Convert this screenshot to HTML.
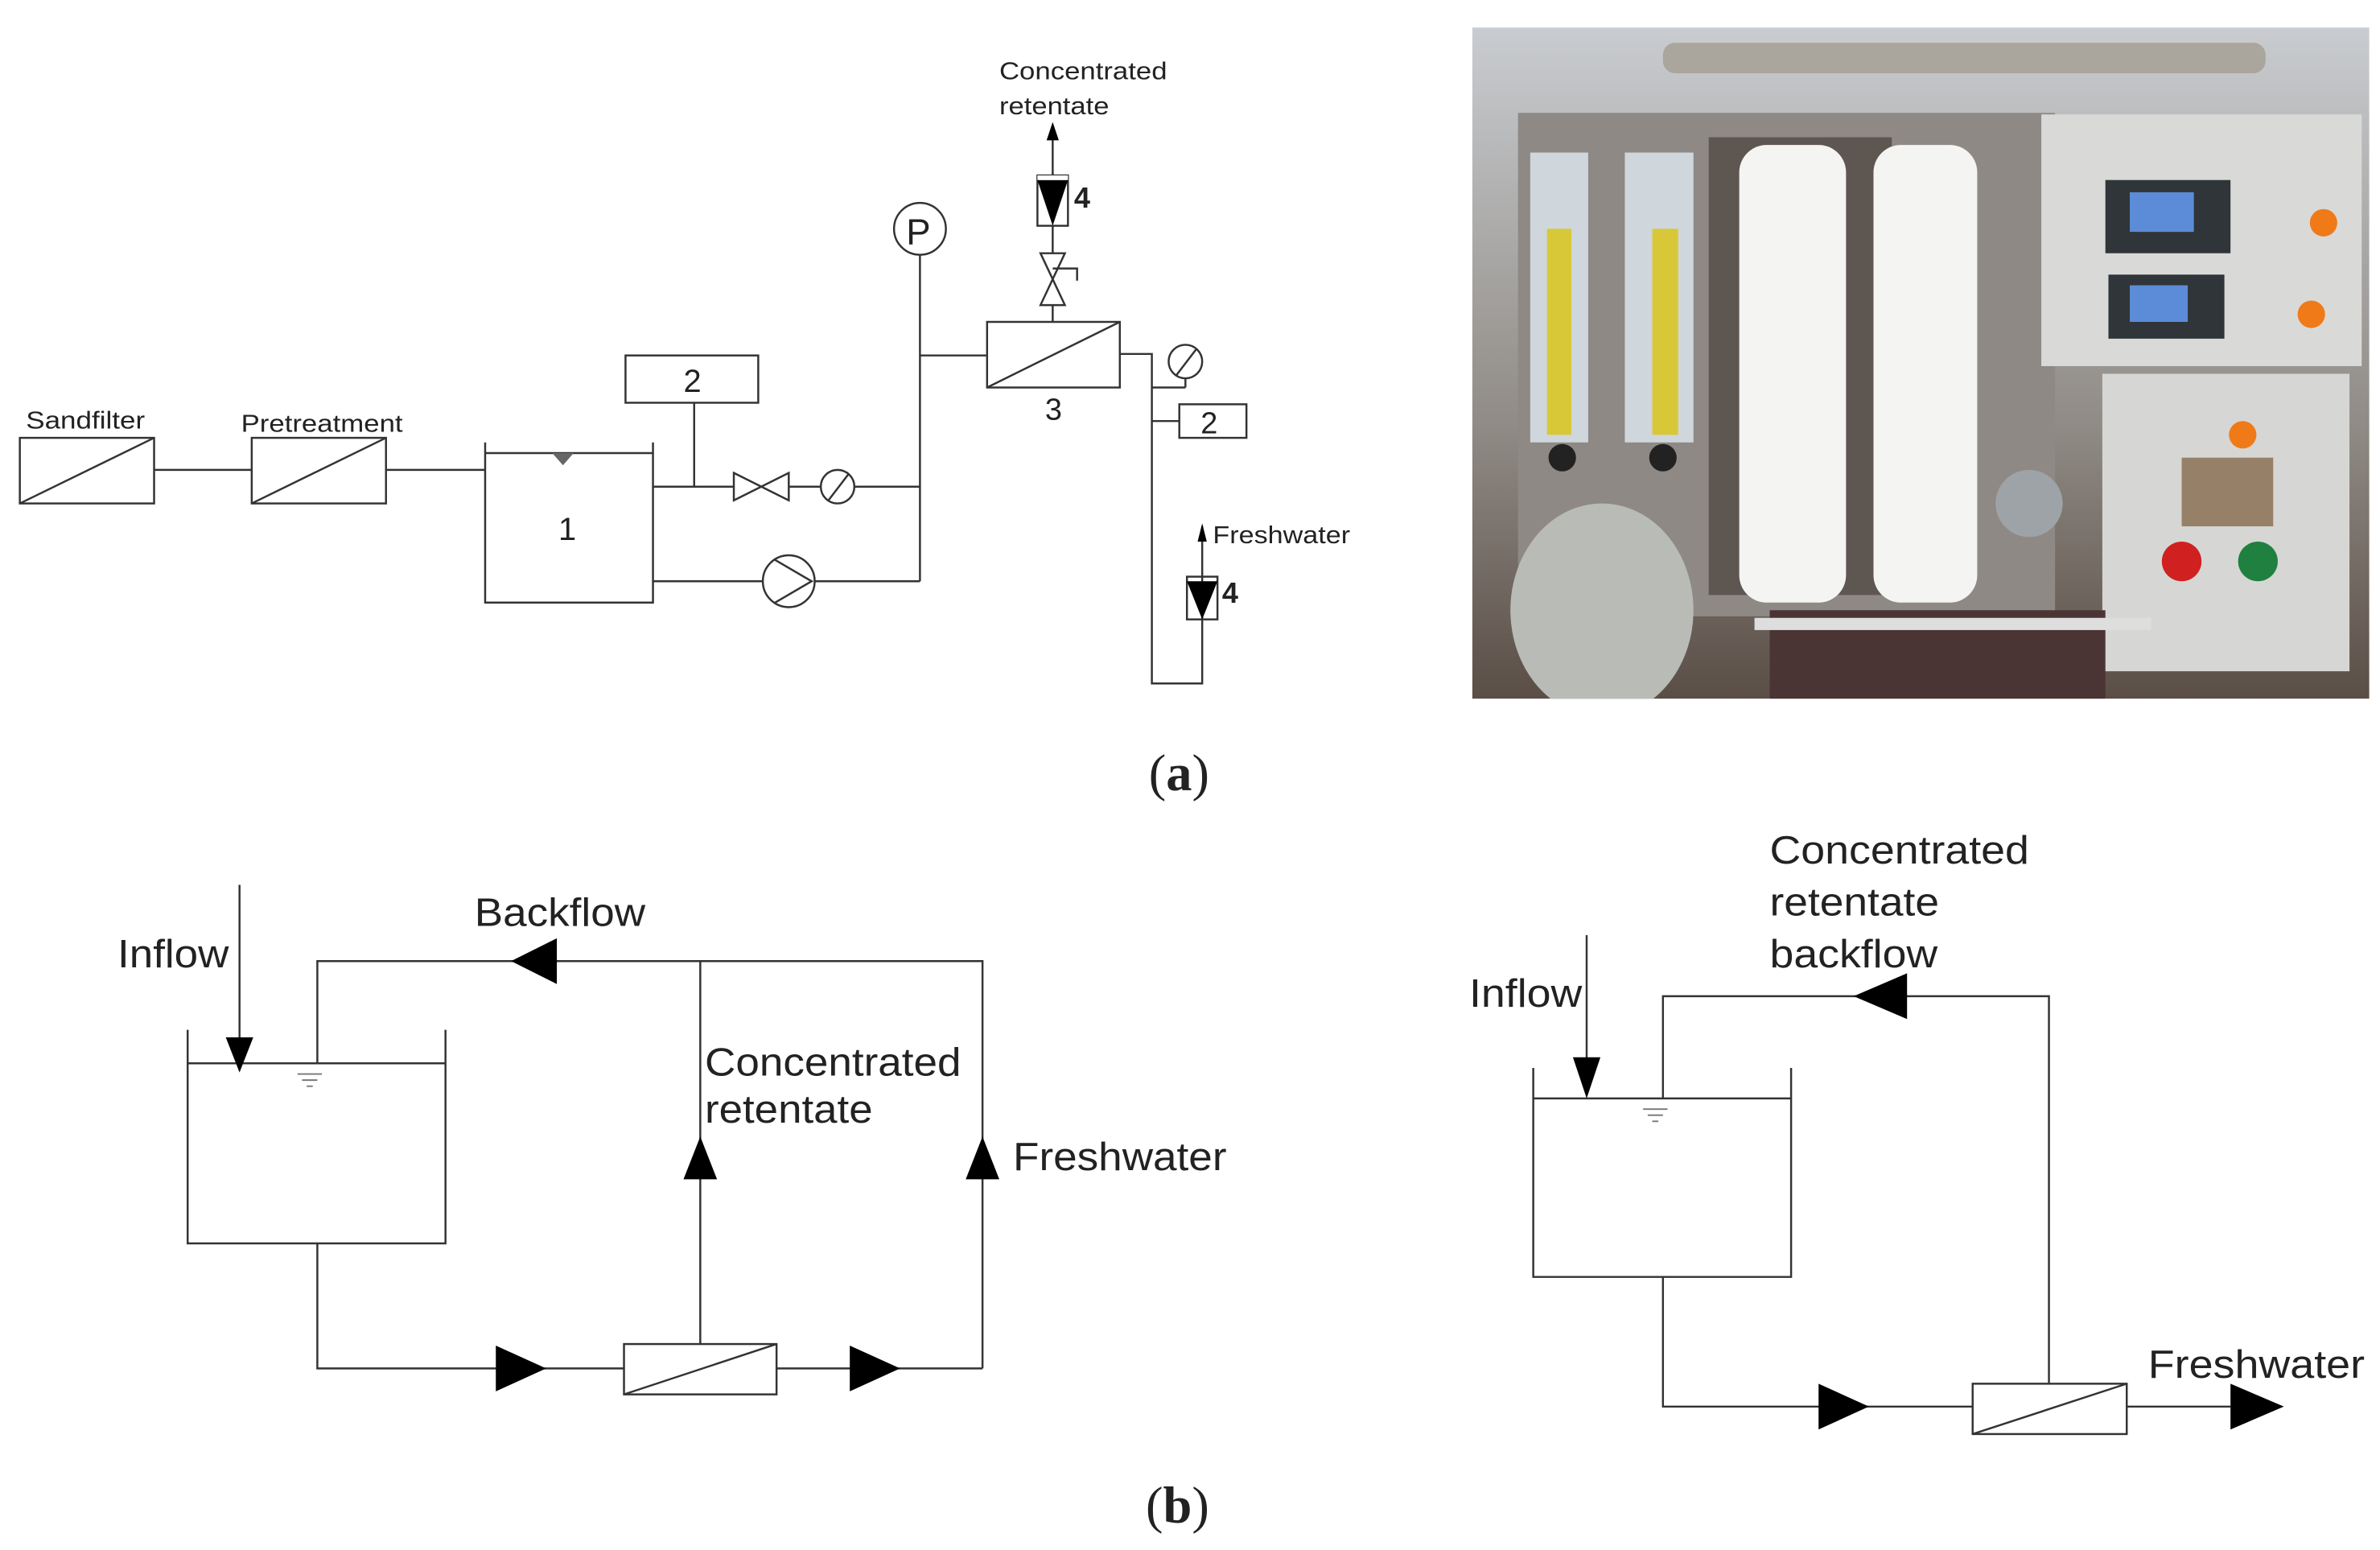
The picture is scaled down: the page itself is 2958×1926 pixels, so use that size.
<!DOCTYPE html>
<html><head><meta charset="utf-8"><style>
html,body{margin:0;padding:0;background:#fff;}
svg{display:block;}
text{font-family:"Liberation Sans",Arial,sans-serif;fill:#222;}
.s{font-family:"Liberation Serif",serif;}
</style></head><body>
<svg width="2958" height="1926" viewBox="0 0 1560 1016" preserveAspectRatio="none" xmlns="http://www.w3.org/2000/svg">
<g stroke="#333" stroke-width="1.3" fill="none">
<rect x="13" y="287" width="88" height="43"/><line x1="13" y1="330" x2="101" y2="287"/>
<rect x="165" y="287" width="88" height="43"/><line x1="165" y1="330" x2="253" y2="287"/>
<line x1="101" y1="308" x2="165" y2="308"/><line x1="253" y1="308" x2="318" y2="308"/>
<polyline points="318,290 318,395 428,395 428,290"/><line x1="318" y1="297" x2="428" y2="297"/>
<rect x="410" y="233" width="87" height="31"/>
<line x1="455" y1="264" x2="455" y2="319"/>
<line x1="428" y1="319" x2="481" y2="319"/><line x1="517" y1="319" x2="538" y2="319"/><line x1="560" y1="319" x2="603" y2="319"/>
<path d="M481,310 L517,328 L517,310 L481,328 Z"/>
<circle cx="549" cy="319" r="11"/><line x1="543" y1="328" x2="556" y2="311"/>
<line x1="428" y1="381" x2="500" y2="381"/><line x1="534" y1="381" x2="603" y2="381"/>
<circle cx="517" cy="381" r="17"/><polyline points="508,367 532,381 508,395"/>
<line x1="603" y1="381" x2="603" y2="167"/>
<circle cx="603" cy="150" r="17"/>
<line x1="603" y1="233" x2="647" y2="233"/>
<rect x="647" y="211" width="87" height="43"/><line x1="647" y1="254" x2="734" y2="211"/>
<polyline points="734,232 755,232 755,448 788,448 788,378"/>
<line x1="755" y1="254" x2="777" y2="254"/><line x1="777" y1="254" x2="777" y2="248"/>
<circle cx="777" cy="237" r="11"/><line x1="771" y1="246" x2="784" y2="229"/>
<line x1="755" y1="276" x2="773" y2="276"/>
<rect x="773" y="265" width="44" height="22"/>
<rect x="778" y="378" width="20" height="28"/>
<line x1="788" y1="378" x2="788" y2="345"/>
<line x1="690" y1="211" x2="690" y2="200"/>
<path d="M682,166 L698,166 L682,200 L698,200 Z"/>
<line x1="690" y1="166" x2="690" y2="148"/>
<polyline points="690,176 706,176 706,184"/>
<rect x="680" y="115" width="20" height="33"/>
<line x1="690" y1="115" x2="690" y2="82"/>
<line x1="157" y1="580" x2="157" y2="682"/>
<polyline points="123,675 123,815 292,815 292,675"/><line x1="123" y1="697" x2="292" y2="697"/>
<polyline points="208,697 208,630 644,630 644,897"/>
<line x1="459" y1="630" x2="459" y2="881"/>
<polyline points="208,815 208,897 409,897"/>
<rect x="409" y="881" width="100" height="33"/><line x1="409" y1="914" x2="509" y2="881"/>
<line x1="509" y1="897" x2="644" y2="897"/>
<line x1="1040" y1="613" x2="1040" y2="700"/>
<polyline points="1005,700 1005,837 1174,837 1174,700"/><line x1="1005" y1="720" x2="1174" y2="720"/>
<polyline points="1090,720 1090,653 1343,653 1343,907"/>
<polyline points="1090,837 1090,922 1293,922"/>
<rect x="1293" y="907" width="101" height="33"/><line x1="1293" y1="940" x2="1394" y2="907"/>
<line x1="1394" y1="922" x2="1462" y2="922"/>
</g>
<g fill="#000">
<path d="M680,118 L700,118 L690,148 Z"/><rect x="680" y="115" width="20" height="3" fill="#fff"/>
<path d="M778,381 L798,381 L788,406 Z"/>
<path d="M686,92 L690,80 L694,92 Z"/><path d="M785,355 L788,343 L791,355 Z"/>
<path d="M362,297 L376,297 L369,305 Z" fill="#666"/>
<path d="M148,680 L166,680 L157,703 Z"/>
<path d="M335,630 L365,615 L365,645 Z"/>
<path d="M448,773 L470,773 L459,745 Z"/>
<path d="M633,773 L655,773 L644,745 Z"/>
<path d="M325,882 L358,897 L325,912 Z"/>
<path d="M557,882 L590,897 L557,912 Z"/>
<path d="M1031,693 L1049,693 L1040,720 Z"/>
<path d="M1215,653 L1250,638 L1250,668 Z"/>
<path d="M1192,907 L1225,922 L1192,937 Z"/>
<path d="M1462,907 L1497,922 L1462,937 Z"/>
</g>
<g stroke="#777" stroke-width="1">
<line x1="195" y1="704" x2="211" y2="704"/><line x1="198" y1="708" x2="208" y2="708"/><line x1="201" y1="712" x2="205" y2="712"/>
<line x1="1077" y1="727" x2="1093" y2="727"/><line x1="1080" y1="731" x2="1090" y2="731"/><line x1="1083" y1="735" x2="1087" y2="735"/>
</g>
<text x="17" y="281" font-size="16" textLength="78" lengthAdjust="spacingAndGlyphs">Sandfilter</text>
<text x="158" y="283" font-size="16" textLength="106" lengthAdjust="spacingAndGlyphs">Pretreatment</text>
<text x="366" y="354" font-size="21">1</text>
<text x="448" y="257" font-size="21">2</text>
<text x="787" y="284" font-size="20">2</text>
<text x="685" y="275" font-size="20">3</text>
<text x="594" y="160" font-size="24">P</text>
<text x="704" y="136" font-size="19" font-weight="bold">4</text>
<text x="801" y="395" font-size="19" font-weight="bold">4</text>
<text x="655" y="52" font-size="16" textLength="110" lengthAdjust="spacingAndGlyphs">Concentrated</text>
<text x="655" y="75" font-size="16" textLength="72" lengthAdjust="spacingAndGlyphs">retentate</text>
<text x="795" y="356" font-size="16" textLength="90" lengthAdjust="spacingAndGlyphs">Freshwater</text>
<text class="s" x="753" y="518" font-size="34">(<tspan font-weight="bold">a</tspan>)</text>
<text class="s" x="751" y="998" font-size="34">(<tspan font-weight="bold">b</tspan>)</text>
<text x="77" y="634" font-size="26" textLength="73" lengthAdjust="spacingAndGlyphs">Inflow</text>
<text x="311" y="607" font-size="26" textLength="112" lengthAdjust="spacingAndGlyphs">Backflow</text>
<text x="462" y="705" font-size="26" textLength="168" lengthAdjust="spacingAndGlyphs">Concentrated</text>
<text x="462" y="736" font-size="26" textLength="110" lengthAdjust="spacingAndGlyphs">retentate</text>
<text x="664" y="767" font-size="26" textLength="140" lengthAdjust="spacingAndGlyphs">Freshwater</text>
<text x="963" y="660" font-size="26" textLength="74" lengthAdjust="spacingAndGlyphs">Inflow</text>
<text x="1160" y="566" font-size="26" textLength="170" lengthAdjust="spacingAndGlyphs">Concentrated</text>
<text x="1160" y="600" font-size="26" textLength="111" lengthAdjust="spacingAndGlyphs">retentate</text>
<text x="1160" y="634" font-size="26" textLength="110" lengthAdjust="spacingAndGlyphs">backflow</text>
<text x="1408" y="903" font-size="26" textLength="142" lengthAdjust="spacingAndGlyphs">Freshwater</text>
<defs><clipPath id="ph"><rect x="965" y="18" width="588" height="440"/></clipPath>
<linearGradient id="bg" x1="0" y1="0" x2="0" y2="1"><stop offset="0" stop-color="#c9ccd0"/><stop offset="0.6" stop-color="#8f8a84"/><stop offset="1" stop-color="#5a4e46"/></linearGradient></defs>
<g clip-path="url(#ph)">
<rect x="965" y="18" width="588" height="440" fill="url(#bg)"/>
<rect x="995" y="74" width="352" height="330" fill="#8e8985"/>
<rect x="1120" y="90" width="120" height="300" fill="#5e5650"/>
<rect x="1090" y="28" width="395" height="20" rx="8" fill="#aaa59d"/>
<rect x="1003" y="100" width="38" height="190" fill="#cfd6dc"/><rect x="1014" y="150" width="16" height="135" fill="#d8c838"/>
<rect x="1065" y="100" width="45" height="190" fill="#cfd6dc"/><rect x="1083" y="150" width="17" height="135" fill="#d8c838"/>
<circle cx="1024" cy="300" r="9" fill="#222"/><circle cx="1090" cy="300" r="9" fill="#222"/>
<ellipse cx="1050" cy="400" rx="60" ry="70" fill="#b9bbb6"/>
<rect x="1140" y="95" width="70" height="300" rx="18" fill="#f4f4f2"/>
<rect x="1228" y="95" width="68" height="300" rx="18" fill="#f4f4f2"/>
<rect x="1338" y="75" width="210" height="165" fill="#d9dad8"/>
<rect x="1380" y="118" width="82" height="48" fill="#2f3538"/><rect x="1396" y="126" width="42" height="26" fill="#5c8cd8"/>
<rect x="1382" y="180" width="76" height="42" fill="#2f3538"/><rect x="1396" y="187" width="38" height="24" fill="#5c8cd8"/>
<circle cx="1523" cy="146" r="9" fill="#f07a18"/><circle cx="1515" cy="206" r="9" fill="#f07a18"/>
<rect x="1378" y="245" width="162" height="195" fill="#d6d7d4"/>
<circle cx="1470" cy="285" r="9" fill="#f07a18"/>
<rect x="1430" y="300" width="60" height="45" fill="#978068"/>
<circle cx="1430" cy="368" r="13" fill="#d02020"/><circle cx="1480" cy="368" r="13" fill="#208040"/>
<circle cx="1330" cy="330" r="22" fill="#9da3a6"/>
<rect x="1160" y="400" width="220" height="58" fill="#4a3434"/>
<rect x="1150" y="405" width="260" height="8" fill="#dedede"/>
</g>
</svg>
</body></html>
